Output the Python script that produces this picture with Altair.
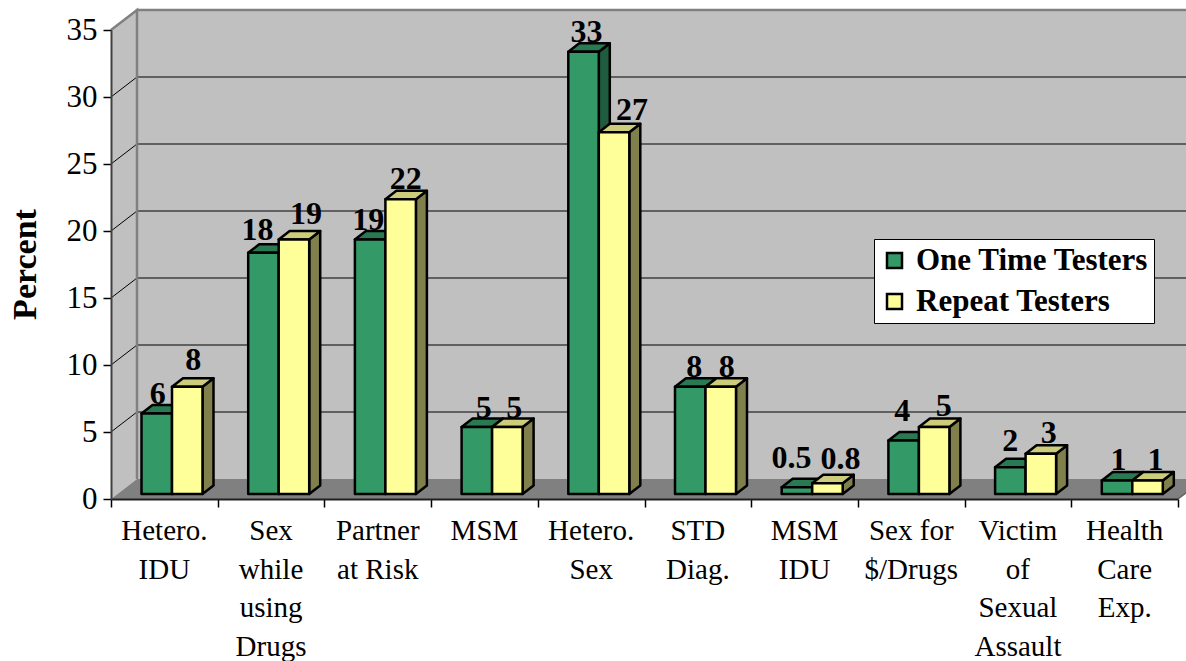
import altair as alt
import pandas as pd

categories = ["Hetero.|IDU", "Sex|while|using|Drugs", "Partner|at Risk", "MSM", "Hetero.|Sex",
              "STD|Diag.", "MSM|IDU", "Sex for|$/Drugs", "Victim|of|Sexual|Assault", "Health|Care|Exp."]
one_time = [6, 18, 19, 5, 33, 8, 0.5, 4, 2, 1]
repeat = [8, 19, 22, 5, 27, 8, 0.8, 5, 3, 1]
gridlines = [5, 10, 15, 20, 25, 30]

# Hand placement of the value labels, in pixels relative to the bar's front top centre
one_time_nudge = [1, -6, -2, 7, 3, 4, -5.5, -1.5, 0, 1.5]
repeat_nudge = [6, 12, 5, 7, 18, 6, 13, 9.5, 8, 8]
one_time_lift = [10, 13, 9, 9, 9.5, 10, 19, 19, 16, 11]
repeat_lift = [17, 15, 10.5, 9, 12.7, 10, 14, 11, 10.7, 11]

SERIF = "Liberation Serif"
WIDTH, HEIGHT = 1067, 469
NCAT = len(categories)
YMAX = 35
PX_X = WIDTH / NCAT
PX_Y = HEIGHT / YMAX


def ux(px):
    return px / PX_X


def uy(px):
    return px / PX_Y


# Perspective of the box and of the bars, converted to axis units
WALL_DX, WALL_DY = ux(26), uy(20)
BAR_DX, BAR_DY = ux(11), uy(8.5)
BAR_LIFT = uy(5)
BAR_GAP = ux(30.5)

SERIES = {
    "One Time Testers": dict(vals=one_time, off=0, nudge=one_time_nudge, lift=one_time_lift,
                             front="#339966", top="#297A52", side="#1F5C3D"),
    "Repeat Testers": dict(vals=repeat, off=1, nudge=repeat_nudge, lift=repeat_lift,
                           front="#FFFF99", top="#CCCC7A", side="#80804D"),
}
SCALE_X = alt.Scale(domain=[0, NCAT], nice=False, zero=False)
SCALE_Y = alt.Scale(domain=[0, YMAX], nice=False, zero=False)


def enc_x(field):
    return alt.X(f"{field}:Q", scale=SCALE_X, axis=None)


def enc_y(field):
    return alt.Y(f"{field}:Q", scale=SCALE_Y, axis=None)


# Box: left wall, back wall, floor
left_wall = alt.Chart(pd.DataFrame({"x": [0, WALL_DX], "y": [0, WALL_DY], "y2": [YMAX, YMAX + WALL_DY]})).mark_area(
    orient="vertical", fill="#C0C0C0"
).encode(x=enc_x("x"), y=enc_y("y"), y2="y2:Q")
back_wall = alt.Chart(pd.DataFrame({"x": [WALL_DX], "x2": [NCAT + WALL_DX], "y": [WALL_DY], "y2": [YMAX + WALL_DY]})).mark_rect(
    fill="#C0C0C0"
).encode(x=enc_x("x"), x2="x2:Q", y=enc_y("y"), y2="y2:Q")
floor = alt.Chart(pd.DataFrame({"y": [0, WALL_DY], "x": [0, WALL_DX], "x2": [NCAT, NCAT + WALL_DX]})).mark_area(
    orient="horizontal", fill="#808080"
).encode(y=enc_y("y"), x=enc_x("x"), x2="x2:Q")

# Gridlines on the back wall and their slanted continuation on the left wall
grid_df = pd.DataFrame({"v": gridlines})
grid_df["yb"] = grid_df["v"] + WALL_DY
grid_df["x"] = WALL_DX
grid_df["x2"] = NCAT + WALL_DX
back_grid = alt.Chart(grid_df).mark_rule(color="#606060", strokeWidth=2).encode(
    x=enc_x("x"), x2="x2:Q", y=enc_y("yb"))
slant_rows = []
for v in gridlines:
    slant_rows += [dict(v=v, x=0, y=v), dict(v=v, x=WALL_DX, y=v + WALL_DY)]
slants = alt.Chart(pd.DataFrame(slant_rows)).mark_line(color="#000000", strokeWidth=1).encode(
    x=enc_x("x"), y=enc_y("y"), detail="v:N")

# Grey outline along the top and back corner of the box
edge_df = pd.DataFrame({"x": [0, WALL_DX, WALL_DX, WALL_DX, NCAT + WALL_DX],
                        "y": [YMAX, YMAX + WALL_DY, WALL_DY, YMAX + WALL_DY, YMAX + WALL_DY],
                        "o": [0, 1, 2, 3, 4]})
edges = alt.Chart(edge_df).mark_line(color="#808080", strokeWidth=2.5).encode(
    x=enc_x("x"), y=enc_y("y"), order="o:Q")
end_df = pd.DataFrame({"x": [NCAT, NCAT + WALL_DX], "y": [0, WALL_DY]})
floor_end = alt.Chart(end_df).mark_line(color="#606060", strokeWidth=1.5).encode(x=enc_x("x"), y=enc_y("y"))

layers = [left_wall, back_wall, floor, back_grid, slants, edges, floor_end]

# Bars: side face, top face and front face for each series
label_rows = []
for name, s in SERIES.items():
    sides, tops, fronts = [], [], []
    for i, v in enumerate(s["vals"]):
        x0 = i + ux(30.5) + s["off"] * BAR_GAP
        x1 = x0 + BAR_GAP
        base, top = BAR_LIFT, BAR_LIFT + v
        fronts.append(dict(series=name, x=x0, x2=x1, y=base, y2=top))
        sides += [dict(k=i, x=x1, y=base, y2=top),
                  dict(k=i, x=x1 + BAR_DX, y=base + BAR_DY, y2=top + BAR_DY)]
        tops += [dict(k=i, y=top, x=x0, x2=x1),
                 dict(k=i, y=top + BAR_DY, x=x0 + BAR_DX, x2=x1 + BAR_DX)]
        label_rows.append(dict(text=f"{v:g}", x=(x0 + x1) / 2 + ux(s["nudge"][i]), y=top + uy(s["lift"][i])))
    line = dict(stroke="#000000", strokeWidth=2.5, strokeJoin="round")
    layers.append(alt.Chart(pd.DataFrame(sides)).mark_area(orient="vertical", fill=s["side"], **line).encode(
        x=enc_x("x"), y=enc_y("y"), y2="y2:Q", detail="k:N"))
    layers.append(alt.Chart(pd.DataFrame(tops)).mark_area(orient="horizontal", fill=s["top"], **line).encode(
        y=enc_y("y"), x=enc_x("x"), x2="x2:Q", detail="k:N"))
    layers.append(alt.Chart(pd.DataFrame(fronts)).mark_rect(**line).encode(
        x=enc_x("x"), x2="x2:Q", y=enc_y("y"), y2="y2:Q",
        fill=alt.Fill("series:N",
                      scale=alt.Scale(domain=list(SERIES), range=[c["front"] for c in SERIES.values()]),
                      legend=alt.Legend(title=None, orient="none", legendX=763, legendY=209,
                                        fillColor="#FFFFFF", strokeColor="#000000", padding=5,
                                        symbolType="square", symbolSize=225, symbolStrokeWidth=2.5,
                                        symbolStrokeColor="#000000", labelFont=SERIF, labelFontSize=31,
                                        labelFontWeight="bold", labelColor="#000000", labelLimit=300,
                                        labelOffset=6, rowPadding=8, clipHeight=33))))

# Value labels
layers.append(alt.Chart(pd.DataFrame(label_rows)).mark_text(
    font=SERIF, fontSize=32, fontWeight="bold", color="#000000", baseline="alphabetic", align="center"
).encode(x=enc_x("x"), y=enc_y("y"), text="text:N"))

# Category labels, broken over several lines below the axis
cat_df = pd.DataFrame({"label": categories, "x": [i + 0.5 for i in range(NCAT)]})
layers.append(alt.Chart(cat_df).mark_text(
    font=SERIF, fontSize=29, color="#000000", baseline="alphabetic", align="center", lineBreak="|", lineHeight=38.7
).encode(x=enc_x("x"), y=alt.value(510), text="label:N"))

# Axes, drawn over the walls
axes = alt.Chart(pd.DataFrame({"x": [0.0], "y": [0.0]})).mark_point(opacity=0).encode(
    x=alt.X("x:Q", scale=SCALE_X, axis=alt.Axis(
        values=list(range(NCAT + 1)), labels=False, title=None, grid=False, zindex=1, tickSize=8,
        tickColor="#000000", tickWidth=1.5, domainColor="#202020", domainWidth=2)),
    y=alt.Y("y:Q", scale=SCALE_Y, axis=alt.Axis(
        values=list(range(0, YMAX + 1, 5)), title="Percent", grid=False, zindex=1, tickSize=8,
        tickColor="#000000", tickWidth=1.5, domainColor="#404040", domainWidth=2,
        labelFont=SERIF, labelFontSize=31, labelColor="#000000", labelPadding=6,
        titleFont=SERIF, titleFontSize=34, titleFontWeight="bold", titleColor="#000000",
        titleAngle=270, titleX=-86, titleY=234, titleAlign="center", titleBaseline="middle")),
)
layers.append(axes)

chart = alt.layer(*layers).resolve_scale(x="shared", y="shared").resolve_axis(
    x="independent", y="independent"
).properties(
    width=WIDTH, height=HEIGHT,
    padding={"left": 111, "top": 30, "right": 8, "bottom": 162},
    autosize=alt.AutoSizeParams(type="none"),
    background="#FFFFFF",
).configure_view(stroke=None)

chart.save("out.html", embed_options={"renderer": "svg", "actions": False})
